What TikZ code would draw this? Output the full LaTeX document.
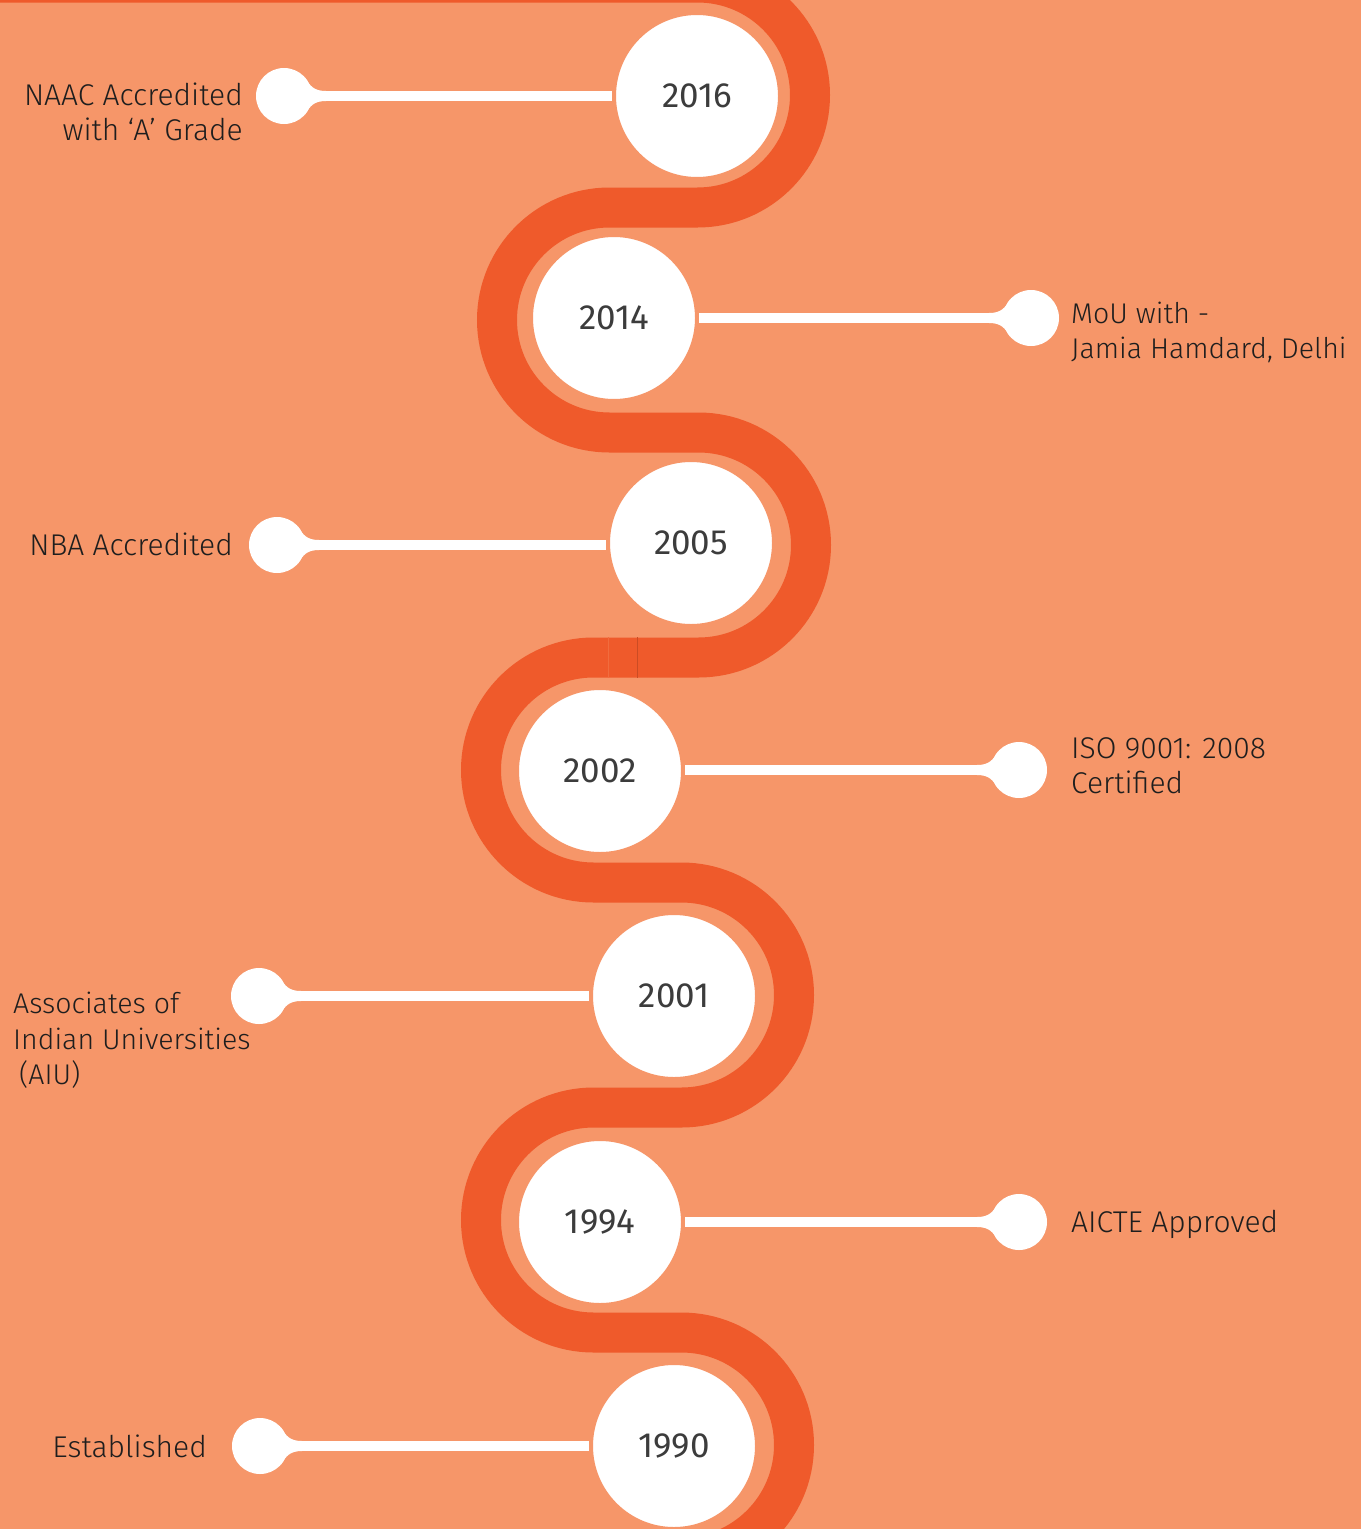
\documentclass[tikz,border=0pt]{standalone}
\usepackage{fontspec}
\newfontfamily\lblfont{Fira Sans Light}
\newfontfamily\yrfont{Fira Sans}
\definecolor{bg}{RGB}{246,150,105}
\definecolor{band}{RGB}{239,90,43}
\definecolor{yeargray}{RGB}{60,60,60}
\definecolor{lblcol}{RGB}{30,30,30}
\tikzset{
  bandline/.style={draw=band, line width=40pt},
  year/.style={circle, fill=white, draw=bg, line width=4pt, minimum size=166pt, inner sep=0pt,
    font=\yrfont\fontsize{35}{40}\selectfont, text=yeargray},
  knob/.style={circle, fill=white, minimum size=56pt, inner sep=0pt},
  conn/.style={draw=white, line width=10pt},
  lbl/.style={inner sep=0pt, font=\lblfont\fontsize{30}{35.5}\selectfont, text=lblcol},
  lblnarrow/.style={lbl, font=\lblfont\fontsize{28.5}{35.5}\selectfont},
  fillet/.pic={\fill[white] (21,18.5) .. controls (26,10) and (30,5) .. (42,5) -- (42,-5)
     .. controls (30,-5) and (26,-10) .. (21,-18.5) -- cycle;}
}
\begin{document}
\begin{tikzpicture}[x=1pt,y=1pt]
\useasboundingbox (0,0) rectangle (1361,-1529);
\fill[bg] (0,0) rectangle (1361,-1529);
% serpentine band
\draw[bandline] (-30,17.5) -- (697.5,17.5) arc(90:-90:112.5pt)
  -- (609.5,-207.5) arc(90:270:112.5pt)
  -- (698.5,-432.5) arc(90:-90:112.5pt)
  -- (593.5,-657.5) arc(90:270:112.5pt)
  -- (681.5,-882.5) arc(90:-90:112.5pt)
  -- (593.5,-1107.5) arc(90:270:112.5pt)
  -- (681.5,-1332.5) arc(90:-90:112.5pt)
  -- (600,-1557.5);
% seam of the band
\coordinate (s1) at (608.5,-637);
\coordinate (s2) at (608.5,-678);
\coordinate (s3) at (637.5,-637);
\coordinate (s4) at (637.5,-678);
\draw[band!70!bg, line width=1pt] (s1) -- (s2);
\draw[band!85!black, line width=0.8pt] (s3) -- (s4);
% year circles
\node[year] (y2016) at (697,-96) {2016};
\node[year] (y2014) at (614,-318) {2014};
\node[year] (y2005) at (691,-543) {2005};
\node[year] (y2002) at (600,-771) {2002};
\node[year] (y2001) at (674,-996) {2001};
\node[year] (y1994) at (600,-1222) {1994};
\node[year] (y1990) at (674,-1446) {1990};
% knobs
\node[knob] (k1) at (284,-96) {};
\node[knob] (k2) at (1031,-318) {};
\node[knob] (k3) at (277,-545) {};
\node[knob] (k4) at (1019,-770) {};
\node[knob] (k5) at (259,-996) {};
\node[knob] (k6) at (1019,-1222) {};
\node[knob] (k7) at (260,-1446) {};
% connectors
\draw[conn] (k1) -- (k1 -| y2016.west);
\draw[conn] (k2) -- (k2 -| y2014.east);
\draw[conn] (k3) -- (k3 -| y2005.west);
\draw[conn] (k4) -- (k4 -| y2002.east);
\draw[conn] (k5) -- (k5 -| y2001.west);
\draw[conn] (k6) -- (k6 -| y1994.east);
\draw[conn] (k7) -- (k7 -| y1990.west);
\pic at (k1) {fillet};
\pic[xscale=-1] at (k2) {fillet};
\pic at (k3) {fillet};
\pic[xscale=-1] at (k4) {fillet};
\pic at (k5) {fillet};
\pic[xscale=-1] at (k6) {fillet};
\pic at (k7) {fillet};
% labels (base anchor = baseline of last line)
\node[lbl, anchor=base east, align=right] (t1) at (243,-140.5) {NAAC Accredited\\with ‘A’ Grade};
\node[lblnarrow, anchor=base west, align=left] (t2) at (1071,-358.5) {MoU with -\\Jamia Hamdard, Delhi};
\node[lbl, anchor=base east] (t3) at (233,-555.5) {NBA Accredited};
\node[lbl, anchor=base west, align=left] (t4) at (1071,-793.5) {ISO 9001: 2008\\Certified};
\node[lblnarrow, anchor=base west, align=left] (t5) at (13,-1084.5) {Associates of\\Indian Universities\\\hspace*{6pt}(AIU)};
\node[lbl, anchor=base west] (t6) at (1071,-1232.5) {AICTE Approved};
\node[lbl, anchor=base east] (t7) at (207,-1457.5) {Established};
\end{tikzpicture}
\end{document}
